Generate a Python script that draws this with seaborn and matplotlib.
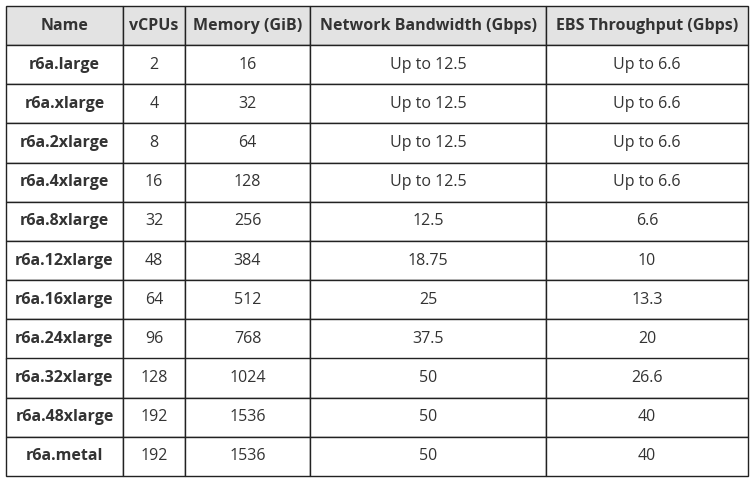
import matplotlib
matplotlib.use("Agg")
import matplotlib.pyplot as plt
import seaborn as sns

sns.set_theme(style="white")
plt.rcParams['font.family'] = ['Open Sans', 'DejaVu Sans']

columns = ["Name", "vCPUs", "Memory (GiB)", "Network Bandwidth (Gbps)", "EBS Throughput (Gbps)"]
names = ["r6a.large", "r6a.xlarge", "r6a.2xlarge", "r6a.4xlarge", "r6a.8xlarge", "r6a.12xlarge",
         "r6a.16xlarge", "r6a.24xlarge", "r6a.32xlarge", "r6a.48xlarge", "r6a.metal"]
vcpus = ["2", "4", "8", "16", "32", "48", "64", "96", "128", "192", "192"]
memory = ["16", "32", "64", "128", "256", "384", "512", "768", "1024", "1536", "1536"]
network = ["Up to 12.5"] * 4 + ["12.5", "18.75", "25", "37.5", "50", "50", "50"]
ebs = ["Up to 6.6"] * 4 + ["6.6", "10", "13.3", "20", "26.6", "40", "40"]

rows = [list(r) for r in zip(names, vcpus, memory, network, ebs)]
widths = [117, 62, 125, 236, 202]
tot = sum(widths)

fig = plt.figure(figsize=(7.52, 4.82), dpi=100)
ax = fig.add_axes([0, 0, 1, 1])
ax.axis("off")
tbl = ax.table(cellText=rows, colLabels=columns, colWidths=[w / tot for w in widths],
               cellLoc="center", bbox=[6 / 752, 6 / 482, tot / 752, 470 / 482])
tbl.auto_set_font_size(False)
for (r, c), cell in tbl.get_celld().items():
    cell.set_edgecolor("#222222")
    cell.set_linewidth(1.0)
    txt = cell.get_text()
    txt.set_fontsize(11.5)
    txt.set_color("#333333")
    if r == 0:
        cell.set_facecolor("#e3e3e3")
        txt.set_fontweight("bold")
    else:
        cell.set_facecolor("white")
        if c == 0:
            txt.set_fontweight("bold")
fig.savefig("out.png", dpi=100)
